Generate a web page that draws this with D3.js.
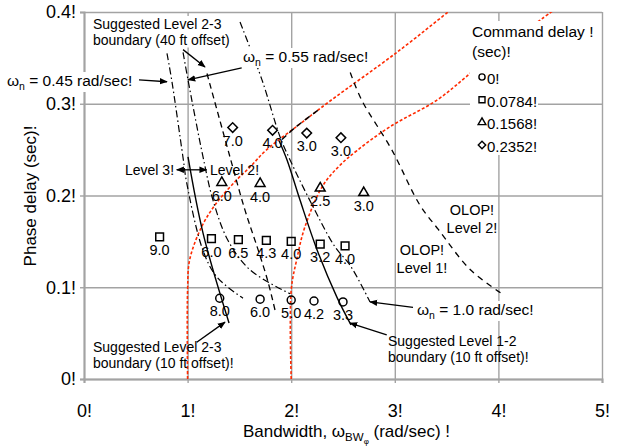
<!DOCTYPE html>
<html>
<head>
<meta charset="utf-8">
<script src="https://cdn.jsdelivr.net/npm/d3@7"></script>
<style>
  body { margin: 0; background: #fff; }
  svg text { font-family: "Liberation Sans", Arial, sans-serif; fill: #000; }
</style>
</head>
<body>
<svg id="chart" width="618" height="448"></svg>
<script>
// axis ticks
const xTicks = [0, 1, 2, 3, 4, 5];
const yTicks = [0, 0.1, 0.2, 0.3, 0.4];

// test points: bandwidth, phase delay, rating label
const circleBW = [1.31, 1.70, 2.0, 2.22, 2.50];
const circlePD = [0.088, 0.087, 0.086, 0.085, 0.084];
const circleLbl = ["8.0", "6.0", "5.0", "4.2", "3.3"];

const squareBW = [0.73, 1.23, 1.49, 1.76, 2.0, 2.28, 2.52];
const squarePD = [0.155, 0.153, 0.152, 0.151, 0.150, 0.147, 0.145];
const squareLbl = ["9.0", "6.0", "6.5", "4.3", "4.0", "3.2", "4.0"];

const triBW = [1.33, 1.70, 2.28, 2.70];
const triPD = [0.214, 0.213, 0.208, 0.203];
const triLbl = ["6.0", "4.0", "2.5", "3.0"];

const diaBW = [1.435, 1.82, 2.15, 2.48];
const diaPD = [0.274, 0.271, 0.268, 0.263];
const diaLbl = ["7.0", "4.0", "3.0", "3.0"];

const legendLbl = ["0!", "0.0784!", "0.1568!", "0.2352!"];

// boundary curves [bandwidth, phase delay]
const redLevel1 = [[1.0, 0], [1.0, 0.097], [1.02, 0.130], [1.136, 0.166], [1.28, 0.192], [1.474, 0.217],
  [1.602, 0.231], [1.764, 0.250], [2.085, 0.278], [2.375, 0.303], [3.02, 0.356], [3.504, 0.399], [3.55, 0.403]];
const redLevel2 = [[2.0, 0], [2.0, 0.097], [2.053, 0.130], [2.133, 0.166], [2.307, 0.211], [2.471, 0.233],
  [2.635, 0.249], [2.954, 0.275], [3.407, 0.304], [3.793, 0.339], [4.498, 0.399], [4.55, 0.403]];
const wn045 = [[0.801, 0.355], [0.849, 0.324], [0.955, 0.242], [0.991, 0.214], [1.149, 0.140],
  [1.284, 0.111], [1.535, 0.088]];
const wn055 = [[0.956, 0.356], [1.004, 0.326], [1.149, 0.242], [1.245, 0.195], [1.390, 0.151],
  [1.602, 0.119], [1.988, 0.093]];
const wn100 = [[1.506, 0.389], [1.718, 0.326], [1.892, 0.264], [1.988, 0.239], [2.201, 0.190],
  [2.423, 0.144], [2.568, 0.124], [2.761, 0.084]];
const lvl23ft40 = [[1.187, 0.333], [1.409, 0.242], [1.554, 0.184], [1.680, 0.141], [1.776, 0.106], [1.844, 0.075]];
const lvl23ft10 = [[1.004, 0.242], [1.149, 0.159], [1.400, 0.061]];
const lvl12ft10 = [[1.882, 0.260], [1.959, 0.239], [2.085, 0.195], [2.249, 0.141], [2.442, 0.089], [2.577, 0.059]];
const lvl12top = [[1.911, 0.261], [2.037, 0.274], [2.259, 0.293]];
const olop = [[2.57, 0.334], [2.68, 0.304], [2.97, 0.250], [3.24, 0.190], [3.42, 0.163], [3.73, 0.119], [4.02, 0.094]];

const margins = { top: 12, right: 16, bottom: 69, left: 84 };
const svg = d3.select("#chart");
const chartWidth = svg.attr("width") - margins.left - margins.right;
const chartHeight = svg.attr("height") - margins.top - margins.bottom;

const xScale = d3.scaleLinear().domain([0, 5]).range([margins.left, margins.left + chartWidth]);
const yScale = d3.scaleLinear().domain([0, 0.4]).range([margins.top + chartHeight, margins.top]);

const gridColor = "#a3a3a3";

svg.append("defs").append("clipPath").attr("id", "plotClip")
  .append("rect")
  .attr("x", margins.left).attr("y", margins.top)
  .attr("width", chartWidth).attr("height", chartHeight);

const arrowDefs = svg.select("defs");
arrowDefs.append("marker")
  .attr("id", "arrowHead")
  .attr("viewBox", "0 0 10 10")
  .attr("refX", 9).attr("refY", 5)
  .attr("markerWidth", 8).attr("markerHeight", 8)
  .attr("markerUnits", "userSpaceOnUse")
  .attr("orient", "auto-start-reverse")
  .append("path").attr("d", "M0,1 L10,5 L0,9 z").attr("fill", "#000");

// gridlines
svg.append("g")
  .attr("transform", `translate(0, ${margins.top + chartHeight})`)
  .call(d3.axisBottom(xScale).tickValues(xTicks).tickSize(-chartHeight).tickFormat(""))
  .call((g) => g.select(".domain").remove())
  .call((g) => g.selectAll("line").attr("stroke", gridColor).attr("stroke-width", 1.4));
svg.append("g")
  .attr("transform", `translate(${margins.left}, 0)`)
  .call(d3.axisLeft(yScale).tickValues(yTicks).tickSize(-chartWidth).tickFormat(""))
  .call((g) => g.select(".domain").remove())
  .call((g) => g.selectAll("line").attr("stroke", gridColor).attr("stroke-width", 1.4));

// axes
const bottomAxis = svg.append("g")
  .attr("transform", `translate(0, ${margins.top + chartHeight})`)
  .call(d3.axisBottom(xScale).tickValues(xTicks).tickSize(4).tickPadding(21).tickFormat((d) => d + "!"));
const leftAxis = svg.append("g")
  .attr("transform", `translate(${margins.left}, 0)`)
  .call(d3.axisLeft(yScale).tickValues(yTicks).tickSize(4).tickPadding(4).tickFormat((d) => d + "!"));
[bottomAxis, leftAxis].forEach((g) => {
  g.select(".domain").attr("stroke", gridColor).attr("stroke-width", 2);
  g.selectAll("line").attr("stroke", gridColor).attr("stroke-width", 1.4);
  g.selectAll("text").attr("font-size", 18).attr("font-family", "Liberation Sans, Arial, sans-serif");
});

// axis titles
const xTitle = svg.append("text").attr("x", 243).attr("y", 437).attr("font-size", 17);
xTitle.append("tspan").text("Bandwidth, \u03c9");
xTitle.append("tspan").attr("dy", 4).attr("font-size", 11.5).text("BW");
xTitle.append("tspan").attr("dy", 3).attr("font-size", 8).text("\u03c6");
xTitle.append("tspan").attr("dy", -7).text(" (rad/sec) !");

svg.append("text")
  .attr("transform", "translate(36, 196) rotate(-90)")
  .attr("text-anchor", "middle")
  .attr("font-size", 17)
  .text("Phase delay (sec)!");

// curves
const lineGen = d3.line()
  .x((d) => xScale(d[0]))
  .y((d) => yScale(d[1]))
  .curve(d3.curveCatmullRom.alpha(0.5));

const curves = svg.append("g").attr("clip-path", "url(#plotClip)").attr("fill", "none");
function drawCurve(pts, color, dash, width) {
  curves.append("path")
    .datum(pts)
    .attr("d", lineGen)
    .attr("stroke", color)
    .attr("stroke-width", width)
    .attr("stroke-dasharray", dash);
}
drawCurve(redLevel1, "#ff2a00", "3,2", 1.6);
drawCurve(redLevel2, "#ff2a00", "3,2", 1.6);
drawCurve(wn045, "#000", "7,3,1.5,3", 1.2);
drawCurve(wn055, "#000", "7,3,1.5,3", 1.2);
drawCurve(wn100, "#000", "7,3,1.5,3", 1.2);
drawCurve(lvl23ft40, "#000", "6,4", 1.3);
drawCurve(lvl23ft10, "#000", null, 1.4);
drawCurve(lvl12ft10, "#000", null, 1.4);
drawCurve(lvl12top, "#000", "6,4", 1.4);
drawCurve(olop, "#000", "6,5", 1.3);

// markers
const symCircle = { d: d3.symbol().type(d3.symbolCircle).size(50), rot: 0 };
const symSquare = { d: d3.symbol().type(d3.symbolSquare).size(60), rot: 0 };
const symTri = { d: d3.symbol().type(d3.symbolTriangle).size(42), rot: 0 };
const symDia = { d: d3.symbol().type(d3.symbolSquare).size(46), rot: 45 };

function drawSeries(bw, pd, lbl, sym) {
  const g = svg.append("g");
  bw.forEach((b, i) => {
    g.append("path")
      .attr("d", sym.d())
      .attr("transform", `translate(${xScale(b)}, ${yScale(pd[i])}) rotate(${sym.rot})`)
      .attr("fill", "none")
      .attr("stroke", "#000")
      .attr("stroke-width", 1.5);
    g.append("text")
      .attr("x", xScale(b))
      .attr("y", yScale(pd[i]) + 18)
      .attr("text-anchor", "middle")
      .attr("font-size", 14.5)
      .text(lbl[i]);
  });
}
drawSeries(circleBW, circlePD, circleLbl, symCircle);
drawSeries(squareBW, squarePD, squareLbl, symSquare);
drawSeries(triBW, triPD, triLbl, symTri);
drawSeries(diaBW, diaPD, diaLbl, symDia);

// legend
const legend = svg.append("g");
legend.append("rect").attr("x", 470).attr("y", 21).attr("width", 128).attr("height", 42).attr("fill", "#fff");
legend.append("rect").attr("x", 470).attr("y", 63).attr("width", 68).attr("height", 92).attr("fill", "#fff");
legend.append("text").attr("x", 472).attr("y", 37).attr("font-size", 15.5).text("Command delay !");
legend.append("text").attr("x", 472).attr("y", 57).attr("font-size", 15.5).text("(sec)!");
const legendSyms = [
  { d: d3.symbol().type(d3.symbolCircle).size(30), rot: 0 },
  { d: d3.symbol().type(d3.symbolSquare).size(36), rot: 0 },
  { d: d3.symbol().type(d3.symbolTriangle).size(26), rot: 0 },
  { d: d3.symbol().type(d3.symbolSquare).size(28), rot: 45 }
];
legendLbl.forEach((t, i) => {
  const yy = 77 + i * 22.7;
  legend.append("path")
    .attr("d", legendSyms[i].d())
    .attr("transform", `translate(482, ${yy}) rotate(${legendSyms[i].rot})`)
    .attr("fill", "none").attr("stroke", "#000").attr("stroke-width", 1.4);
  legend.append("text").attr("x", 487).attr("y", yy + 7).attr("font-size", 15).text(t);
});

// annotations
const notes = svg.append("g");
function addText(x, y, lines, opts) {
  const o = opts || {};
  const g = notes.append("g");
  const t = g.append("text")
    .attr("x", x).attr("y", y)
    .attr("font-size", o.size || 14)
    .attr("text-anchor", o.anchor || "start");
  lines.forEach((ln, i) => {
    t.append("tspan").attr("x", x).attr("dy", i === 0 ? 0 : (o.lead || 16)).text(ln);
  });
  if (o.bg) {
    const bb = t.node().getBBox();
    g.insert("rect", "text")
      .attr("x", bb.x - 1).attr("y", bb.y).attr("width", bb.width + 2).attr("height", bb.height)
      .attr("fill", "#fff");
  }
  return t;
}
function addOmega(x, y, value) {
  const g = notes.append("g");
  const t = g.append("text").attr("x", x).attr("y", y).attr("font-size", 15.5);
  t.append("tspan").text("\u03c9");
  t.append("tspan").attr("dy", 4).attr("font-size", 10.5).text("n");
  t.append("tspan").attr("dy", -4).text(" = " + value + " rad/sec!");
  const bb = t.node().getBBox();
  g.insert("rect", "text")
    .attr("x", bb.x - 1).attr("y", bb.y).attr("width", bb.width + 2).attr("height", bb.height)
    .attr("fill", "#fff");
}

addText(93, 29, ["Suggested Level 2-3", "boundary (40 ft offset)"], { bg: true, lead: 15.5 });
addOmega(7, 86, "0.45");
addOmega(243, 62, "0.55");
addOmega(417, 315, "1.0");
addText(125, 175, ["Level 3!"]);
addText(210, 175, ["Level 2!"]);
addText(93, 352, ["Suggested Level 2-3", "boundary (10 ft offset)!"], { lead: 16 });
addText(388, 346, ["Suggested Level 1-2", "boundary (10 ft offset)!"], { lead: 16 });
addText(472, 215, ["OLOP!", "Level 2!"], { anchor: "middle", size: 14.5, lead: 17.5 });
addText(422, 255, ["OLOP!", "Level 1!"], { anchor: "middle", size: 14.5, lead: 18 });

// arrows [from, to] in chart units
const arrows = [
  [[0.531, 0.326], [0.801, 0.324]],
  [[1.522, 0.339], [1.004, 0.326]],
  [[0.956, 0.359], [1.168, 0.340]],
  [[1.088, 0.040], [1.361, 0.062]],
  [[2.922, 0.048], [2.568, 0.061]],
  [[3.176, 0.078], [2.761, 0.084]]
];
arrows.forEach((a) => {
  notes.append("line")
    .attr("x1", xScale(a[0][0])).attr("y1", yScale(a[0][1]))
    .attr("x2", xScale(a[1][0])).attr("y2", yScale(a[1][1]))
    .attr("stroke", "#000").attr("stroke-width", 1.3)
    .attr("marker-end", "url(#arrowHead)");
});
// Level 3 <-> Level 2
notes.append("line")
  .attr("x1", xScale(0.895)).attr("y1", yScale(0.228))
  .attr("x2", xScale(1.184)).attr("y2", yScale(0.228))
  .attr("stroke", "#000").attr("stroke-width", 1.3)
  .attr("marker-start", "url(#arrowHead)")
  .attr("marker-end", "url(#arrowHead)");
</script>
</body>
</html>
